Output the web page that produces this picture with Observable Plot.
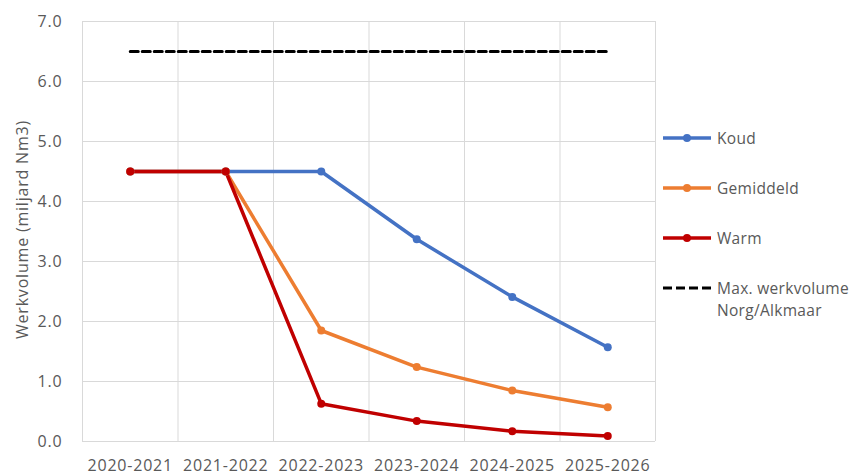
<!DOCTYPE html>
<html><head><meta charset="utf-8">
<script src="https://cdn.jsdelivr.net/npm/d3@7"></script>
<script src="https://cdn.jsdelivr.net/npm/@observablehq/plot@0.6"></script>
<style>
body{margin:0;background:#fff;}
#wrap{position:relative;width:852px;height:475px;font-family:"Open Sans",sans-serif;color:#595959;overflow:hidden;}
#wrap svg.plot{position:absolute;left:0;top:0;}
.leg{position:absolute;left:663px;font-size:15.5px;line-height:22px;display:flex;align-items:flex-start;}
.leg svg{flex:none;margin-top:0;}
.leg span{margin-left:6px;letter-spacing:0.3px;}
</style></head><body><div id="wrap"></div>
<script>
const seasons = ["2020-2021","2021-2022","2022-2023","2023-2024","2024-2025","2025-2026"];
const koud = [4.5, 4.5, 4.5, 3.37, 2.41, 1.57];
const gemiddeld = [4.5, 4.5, 1.85, 1.24, 0.85, 0.57];
const warm = [4.5, 4.5, 0.63, 0.34, 0.17, 0.09];
const maxWerkvolume = 6.5;
const seriesNames = ["Koud", "Gemiddeld", "Warm"];
const seriesColors = ["#4472C4", "#ED7D31", "#C00000"];
const maxLabel = ["Max. werkvolume", "Norg/Alkmaar"];
const yTicks = [0, 1, 2, 3, 4, 5, 6, 7];
const yLabel = "Werkvolume (miljard Nm3)";

const seriesValues = [koud, gemiddeld, warm];
const rows = seriesNames.flatMap((name, k) => seriesValues[k].map((v, i) => ({series: name, i, value: v})));
const maxRows = seasons.map((s, i) => ({i, value: maxWerkvolume}));
const gridX = d3.range(seasons.length + 1).map(i => i - 0.5);

const gray = "#595959";
const grid = "#d9d9d9";

const chart = Plot.plot({
  width: 852,
  height: 475,
  marginLeft: 82,
  marginRight: 197,
  marginTop: 21,
  marginBottom: 34,
  style: {fontFamily: '"Open Sans", sans-serif', fontSize: "16px", color: gray, letterSpacing: "0.8px", background: "#fff"},
  x: {type: "linear", domain: [-0.5, seasons.length - 0.5]},
  y: {domain: [0, 7]},
  color: {domain: seriesNames, range: seriesColors},
  marks: [
    Plot.ruleY(yTicks, {stroke: grid, strokeWidth: 1}),
    Plot.ruleX(gridX, {stroke: grid, strokeWidth: 1}),
    Plot.axisY({ticks: yTicks, tickFormat: d3.format(".1f"), tickSize: 0, tickPadding: 20, label: null, fill: gray}),
    Plot.axisX({ticks: d3.range(seasons.length), tickFormat: i => seasons[i], tickSize: 0, tickPadding: 18, label: null, fill: gray}),
    Plot.text([yLabel], {frameAnchor: "left", textAnchor: "middle", dx: -60, dy: -2, rotate: -90, fill: gray, fontSize: 16, letterSpacing: "0.4px"}),
    Plot.line(maxRows, {x: "i", y: "value", stroke: "#000", strokeWidth: 3, strokeDasharray: "8,4"}),
    Plot.line(rows, {x: "i", y: "value", z: "series", stroke: "series", strokeWidth: 3.5}),
    Plot.dot(rows, {x: "i", y: "value", fill: "series", r: 4})
  ]
});
chart.classList.add("plot");
const wrap = document.getElementById("wrap");
wrap.appendChild(chart);

const legTops = [127, 177, 227, 277];
seriesNames.forEach((name, k) => {
  const d = document.createElement("div");
  d.className = "leg";
  d.style.top = legTops[k] + "px";
  d.innerHTML = `<svg width="48" height="22"><line x1="0" x2="48" y1="11" y2="11" stroke="${seriesColors[k]}" stroke-width="3.5"/><circle cx="24" cy="11" r="4" fill="${seriesColors[k]}"/></svg><span>${name}</span>`;
  wrap.appendChild(d);
});
const dm = document.createElement("div");
dm.className = "leg";
dm.style.top = legTops[3] + "px";
dm.innerHTML = `<svg width="48" height="22"><line x1="0" x2="48" y1="11" y2="11" stroke="#000" stroke-width="3" stroke-dasharray="9,4"/></svg><span>${maxLabel[0]}<br>${maxLabel[1]}</span>`;
wrap.appendChild(dm);
</script>
</body></html>
